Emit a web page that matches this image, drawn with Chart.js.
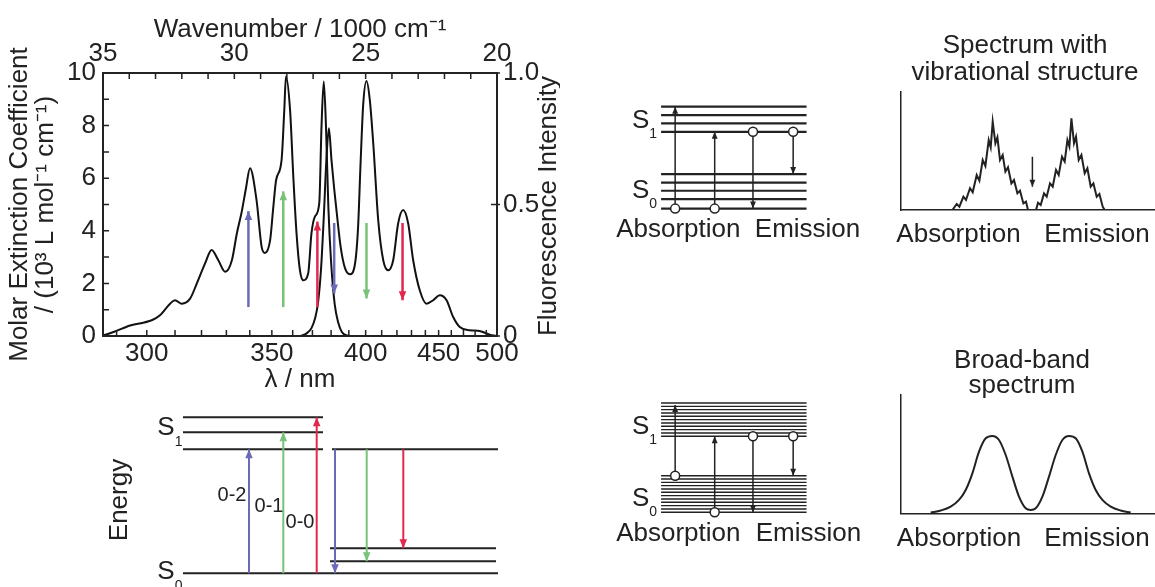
<!DOCTYPE html>
<html>
<head>
<meta charset="utf-8">
<script src="https://cdn.jsdelivr.net/npm/chart.js@4.4.1/dist/chart.umd.min.js"></script>
<style>
  html, body { margin: 0; padding: 0; background: #fff; }
  body { width: 1155px; height: 587px; position: relative; overflow: hidden; }
  canvas { position: absolute; }
</style>
</head>
<body>
<canvas id="spectrum" width="560" height="400" style="left:0;top:0"></canvas>
<canvas id="levels" width="460" height="202" style="left:100px;top:385px"></canvas>
<canvas id="vibLevels" width="280" height="200" style="left:590px;top:60px"></canvas>
<canvas id="vibSpectrum" width="275" height="260" style="left:880px;top:0"></canvas>
<canvas id="broadLevels" width="280" height="240" style="left:590px;top:340px"></canvas>
<canvas id="broadSpectrum" width="275" height="247" style="left:880px;top:340px"></canvas>
<script>
const FONT = '"Liberation Sans", Arial, sans-serif';
const INK = '#222';

// absorption: molar extinction coefficient (10^3 L mol-1 cm-1) vs wavelength (nm)
const absWavelength = [286, 289, 294.4, 301.7, 304.6, 308.2, 310, 312.5, 315.6, 318.2, 321.4, 324, 326.7, 329.5,
  332.3, 334.4, 336.5, 338.3, 340.1, 343, 345.3, 346.8, 349.2, 350.7, 352, 354.6, 355.9, 356.7, 358.7, 360.3,
  361.9, 363.6, 365.3, 367.8, 369.5, 371.3, 373.6, 374.8, 376, 377.2, 378.5, 380, 382, 384, 386, 389, 392];
const absCoefficient = [0.03, 0.15, 0.4, 0.6, 0.79, 1.23, 1.36, 1.23, 1.42, 2.0, 2.76, 3.27, 2.88, 2.44,
  2.88, 3.9, 4.73, 5.6, 6.38, 5.17, 3.39, 3.16, 3.65, 4.92, 5.93, 6.7, 8.6, 9.87, 8.6, 6.06,
  3.9, 2.5, 2.12, 2.38, 3.9, 4.54, 5.05, 7.97, 9.68, 7.97, 4.9, 2.8, 1.2, 0.5, 0.15, 0.02, 0];

// fluorescence: normalised intensity vs wavelength (nm)
const emWavelength = [364, 367, 369.5, 371.5, 373, 374.5, 376, 377.5, 378.8, 380.2, 381.7, 383.1, 385.3, 387.7,
  390.6, 393.5, 395.4, 397, 398.5, 400.5, 402.5, 404.7, 407.8, 411, 414.2, 417.5, 420.8, 424.2, 427.7, 431.2,
  435.9, 440.9, 445.8, 450.9, 456.2, 461.5, 466.9, 475.3, 484, 493.2, 499];
const emIntensity = [0, 0.01, 0.03, 0.07, 0.13, 0.25, 0.45, 0.68, 0.79, 0.67, 0.56, 0.47, 0.34, 0.26,
  0.235, 0.27, 0.41, 0.67, 0.88, 0.97, 0.9, 0.73, 0.44, 0.288, 0.25, 0.288, 0.428, 0.479, 0.428, 0.288,
  0.174, 0.123, 0.136, 0.155, 0.136, 0.072, 0.034, 0.022, 0.019, 0.005, 0];

// vibronic bands 0-2, 0-1, 0-0 marked with arrows
const bandColors = ['#6b6bb5', '#79c279', '#e0294c'];
const absArrowNm = [339.4, 355.4, 372.6];
const absArrowFrom = 1.1;
const absArrowTo = [4.75, 5.5, 4.35];
const emArrowNm = [381.7, 400.5, 423.8];
const emArrowFrom = 4.3;
const emArrowTo = [1.62, 1.43, 1.36];

const nmTicks = [290, 300, 310, 320, 330, 340, 350, 360, 370, 380, 390, 400, 410, 420, 430, 440, 450, 460, 470, 480, 490, 500];
const nmLabels = [300, 350, 400, 450, 500];

// energy level scheme below the spectrum (relative energies)
const s1Levels = [124, 141, 156];
const s0Levels = [0, 12, 25];
const transitionLabels = ['0-2', '0-1', '0-0'];

// sharp-level scheme (top) and dense-level scheme (bottom)
const vibS0 = [0, 10, 19, 27.7, 36.7];
const vibS1 = [81.7, 90.7, 99.4, 108.4];
const denseS0 = [0, 3.5, 7, 10.5, 14, 17.5, 21, 24.5, 28, 31.5, 35, 38.5];
const denseS1 = [80, 83.5, 87, 90.5, 94, 97.5, 101, 104.5, 108, 111.5, 115];

// schematic spectrum with vibrational structure
const vibX = [0, 51.7, 56, 58.7, 62.7, 65.3, 69.3, 72, 76, 78.7, 82, 84.7, 88, 90, 92, 94.7, 96.7, 99.3, 102,
  104.7, 107.3, 110.7, 113.3, 116.7, 119.3, 122.7, 125.3, 127.3, 135.3, 137.3, 140, 143.3, 146, 149.3, 152,
  155.3, 158, 161.3, 164, 166.7, 168.7, 170.7, 173.3, 175.3, 178, 180.7, 184, 186.7, 190, 192.7, 196, 198.7,
  202, 204, 254];
const vibY = [0, 0, 0.051, 0.028, 0.113, 0.085, 0.184, 0.15, 0.297, 0.249, 0.424, 0.373, 0.593, 0.531, 0.749,
  0.565, 0.616, 0.424, 0.466, 0.325, 0.362, 0.226, 0.254, 0.141, 0.164, 0.056, 0.071, 0, 0, 0.062, 0.042,
  0.141, 0.113, 0.226, 0.198, 0.339, 0.297, 0.452, 0.41, 0.593, 0.537, 0.777, 0.565, 0.621, 0.424, 0.466,
  0.311, 0.353, 0.198, 0.226, 0.113, 0.136, 0.028, 0, 0];

// schematic broad-band spectrum
const broadX = [30, 40, 50, 58.3, 65, 71.7, 78.3, 85, 91.7, 98.3, 105, 111.7, 118.3, 125, 130, 135, 141.7,
  148.3, 155, 161.7, 168.3, 175, 181.7, 188.3, 195, 201.7, 210, 220, 230];
const broadY = [0.006, 0.023, 0.056, 0.113, 0.197, 0.338, 0.521, 0.634, 0.654, 0.62, 0.493, 0.31, 0.141,
  0.042, 0.028, 0.042, 0.141, 0.31, 0.493, 0.62, 0.654, 0.634, 0.521, 0.338, 0.197, 0.113, 0.056, 0.023, 0.006];

Chart.defaults.font.family = FONT;
Chart.defaults.font.size = 26;
Chart.defaults.color = INK;

// filled arrowheads at the last point of datasets flagged with arrowHead
const arrowHeads = {
  id: 'arrowHeads',
  afterDatasetsDraw(chart) {
    const ctx = chart.ctx;
    chart.data.datasets.forEach((ds, i) => {
      if (!ds.arrowHead) return;
      const pts = chart.getDatasetMeta(i).data;
      const a = pts[pts.length - 2], b = pts[pts.length - 1];
      const ang = Math.atan2(b.y - a.y, b.x - a.x);
      const len = ds.arrowHead, half = len * 0.42;
      ctx.save();
      ctx.fillStyle = ds.borderColor;
      ctx.translate(b.x, b.y);
      ctx.rotate(ang);
      ctx.beginPath();
      ctx.moveTo(0, 0);
      ctx.lineTo(-len, half);
      ctx.lineTo(-len, -half);
      ctx.closePath();
      ctx.fill();
      ctx.restore();
    });
  }
};

// free text (labels, subscripts) placed in data units or canvas pixels
const textMarks = {
  id: 'textMarks',
  afterDraw(chart, args, opts) {
    const ctx = chart.ctx;
    (opts.items || []).forEach(m => {
      const x = m.px ? m.x : chart.scales.x.getPixelForValue(m.x);
      const y = m.px ? m.y : chart.scales.y.getPixelForValue(m.y);
      ctx.save();
      ctx.translate(x, y);
      if (m.rotate) ctx.rotate(m.rotate * Math.PI / 180);
      ctx.fillStyle = INK;
      ctx.font = (m.size || 26) + 'px ' + FONT;
      ctx.textAlign = 'center';
      ctx.textBaseline = 'middle';
      ctx.fillText(m.text, 0, 0);
      if (m.sub) {
        const w = ctx.measureText(m.text).width;
        ctx.font = (m.subSize || 14) + 'px ' + FONT;
        ctx.textAlign = 'left';
        ctx.fillText(m.sub, w / 2, m.subDy || 13);
      }
      ctx.restore();
    });
  }
};

// plot frame with inward tick marks on all four sides
const frameTicks = {
  id: 'frameTicks',
  afterDraw(chart) {
    const { ctx, chartArea: a, scales } = chart;
    ctx.save();
    ctx.strokeStyle = INK;
    ctx.lineWidth = 1.5;
    ctx.beginPath();
    scales.y.ticks.forEach(t => {
      const p = scales.y.getPixelForValue(t.value);
      ctx.moveTo(a.left, p); ctx.lineTo(a.left + 6, p);
    });
    scales.y1.ticks.forEach(t => {
      const p = scales.y1.getPixelForValue(t.value);
      ctx.moveTo(a.right - 6, p); ctx.lineTo(a.right + 3, p);
    });
    scales.xTop.ticks.forEach(t => {
      const p = scales.xTop.getPixelForValue(t.value);
      ctx.moveTo(p, a.top); ctx.lineTo(p, a.top + 6);
    });
    scales.x.ticks.forEach(t => {
      const p = scales.x.getPixelForValue(t.value);
      ctx.moveTo(p, a.bottom); ctx.lineTo(p, a.bottom - 6);
    });
    ctx.stroke();
    ctx.lineWidth = 2;
    ctx.strokeRect(a.left, a.top, a.right - a.left, a.bottom - a.top);
    ctx.restore();
  }
};

const toWavenumber = nm => 1e4 / nm;   // in 1000 cm-1

function arrowSet(nm, from, to, color, axis) {
  return {
    yAxisID: axis,
    data: [{ x: toWavenumber(nm), y: from }, { x: toWavenumber(nm), y: to }],
    borderColor: color, borderWidth: 2.5, pointRadius: 0, arrowHead: 9
  };
}

const hiddenGrid = { display: false, drawTicks: false };

new Chart(document.getElementById('spectrum'), {
  type: 'line',
  data: {
    datasets: [
      ...absArrowNm.map((nm, i) => arrowSet(nm, absArrowFrom, absArrowTo[i], bandColors[i], 'y')),
      ...emArrowNm.map((nm, i) => arrowSet(nm, emArrowFrom, emArrowTo[i], bandColors[i], 'y')),
      {
        yAxisID: 'y',
        data: absWavelength.map((nm, i) => ({ x: toWavenumber(nm), y: absCoefficient[i] })),
        borderColor: '#111', borderWidth: 2, pointRadius: 0, cubicInterpolationMode: 'monotone'
      },
      {
        yAxisID: 'y1',
        data: emWavelength.map((nm, i) => ({ x: toWavenumber(nm), y: emIntensity[i] })),
        borderColor: '#111', borderWidth: 2, pointRadius: 0, cubicInterpolationMode: 'monotone'
      }
    ]
  },
  options: {
    responsive: false, animation: false, events: [],
    layout: { padding: 0 },
    scales: {
      x: {
        type: 'linear', position: 'bottom', min: 20, max: 35, reverse: true,
        afterBuildTicks: s => { s.ticks = nmTicks.map(nm => ({ value: toWavenumber(nm) })); },
        ticks: {
          autoSkip: false, maxRotation: 0, padding: 2,
          callback: v => { const nm = Math.round(1e4 / v); return nmLabels.includes(nm) ? String(nm) : ''; }
        },
        grid: hiddenGrid, border: { display: false },
        title: { display: true, text: 'λ / nm', padding: { top: 0, bottom: 5 } },
        afterFit: s => { s.height = 64; }
      },
      xTop: {
        type: 'linear', position: 'top', min: 20, max: 35, reverse: true,
        ticks: { stepSize: 1, autoSkip: false, maxRotation: 0, padding: 4, callback: v => v % 5 === 0 ? String(v) : '' },
        grid: hiddenGrid, border: { display: false },
        title: { display: true, text: 'Wavenumber / 1000 cm⁻¹', padding: { top: 14, bottom: 0 } },
        afterFit: s => { s.height = 73; }
      },
      y: {
        position: 'left', min: 0, max: 10,
        ticks: { stepSize: 1, autoSkip: false, padding: 7, callback: v => v % 2 === 0 ? String(v) : '' },
        grid: hiddenGrid, border: { display: false },
        title: {
          display: true,
          text: ['Molar Extinction Coefficient', '/ (10³ L mol⁻¹ cm⁻¹)'],
          font: { size: 26, lineHeight: 1.0 }, padding: { top: 7, bottom: 0 }
        },
        afterFit: s => { s.width = 103; }
      },
      y1: {
        position: 'right', min: 0, max: 1,
        ticks: { stepSize: 0.5, autoSkip: false, padding: 6, callback: v => v === 0 ? '0' : v.toFixed(1) },
        grid: hiddenGrid, border: { display: false },
        afterFit: s => { s.width = 63; }
      }
    },
    plugins: {
      legend: { display: false }, tooltip: { enabled: false },
      textMarks: { items: [{ text: 'Fluorescence Intensity', px: true, x: 549, y: 206, rotate: -90 }] }
    }
  },
  plugins: [frameTicks, arrowHeads, textMarks]
});

// helpers for the schematic panels
function levelSet(e, x0, x1, width) {
  return { data: [{ x: x0, y: e }, { x: x1, y: e }], borderColor: INK, borderWidth: width || 2, pointRadius: 0 };
}
function transition(x, from, to, color, head, width, ring) {
  return {
    data: [{ x: x, y: from }, { x: x, y: to }],
    borderColor: color, borderWidth: width, arrowHead: head,
    pointRadius: ring ? [4.5, 0] : 0, pointStyle: 'circle',
    pointBackgroundColor: '#fff', pointBorderColor: color, pointBorderWidth: 1.5
  };
}
function panel(id, datasets, xr, yr, items, axes, padding) {
  const axis = (r) => ({
    type: 'linear', min: r[0], max: r[1], display: !!axes,
    ticks: { display: false }, grid: hiddenGrid,
    border: { display: true, color: INK, width: 1.5 },
    afterFit: s => { s.width = 0; s.height = 0; }
  });
  return new Chart(document.getElementById(id), {
    type: 'line',
    data: { datasets: datasets },
    options: {
      responsive: false, animation: false, events: [],
      layout: { padding: padding || 0 },
      scales: { x: axis(xr), y: axis(yr) },
      plugins: { legend: { display: false }, tooltip: { enabled: false }, textMarks: { items: items } }
    },
    plugins: [arrowHeads, textMarks]
  });
}

// energy level scheme: absorption from S0 v=0, emission from S1 v=0
panel('levels', [
  ...s1Levels.map((e, i) => transition([149, 183.3, 216.7][i], 0, e, bandColors[i], 9, 2, false)),
  ...s0Levels.map((e, i) => transition([235, 266.7, 303.3][i], s1Levels[0], e, bandColors[i], 9, 2, false)),
  ...s1Levels.map(e => levelSet(e, 83, 223)),
  levelSet(s1Levels[0], 232, 398),
  levelSet(s0Levels[0], 83, 398),
  ...s0Levels.slice(1).map(e => levelSet(e, 230, 396))
], [0, 460], [-13.7, 188.3], [
  { text: transitionLabels[0], x: 132, y: 78.3, size: 20 },
  { text: transitionLabels[1], x: 169, y: 67.3, size: 20 },
  { text: transitionLabels[2], x: 200, y: 51.3, size: 20 },
  { text: 'Energy', x: 20, y: 73.3, rotate: -90 },
  { text: 'S', sub: '1', x: 66, y: 145.3, subDy: 14 },
  { text: 'S', sub: '0', x: 66, y: 1.3, subDy: 14 }
]);

// few, well separated vibrational levels
panel('vibLevels', [
  transition(82.7, vibS0[0], vibS1[3], INK, 7, 1.5, true),
  transition(124, vibS0[0], vibS1[0], INK, 7, 1.5, true),
  transition(164, vibS1[0], vibS0[0], INK, 7, 1.5, true),
  transition(206, vibS1[0], vibS0[4], INK, 7, 1.5, true),
  ...vibS1.map(e => levelSet(e, 68, 220, 2.2)),
  ...vibS0.map(e => levelSet(e, 68, 220, 2.2))
], [0, 280], [-48.3, 151.7], [
  { text: 'S', sub: '1', x: 46.7, y: 93.4 },
  { text: 'S', sub: '0', x: 46.7, y: 18.4 },
  { text: 'Absorption', x: 86, y: -23 },
  { text: 'Emission', x: 221, y: -23 }
]);

// many closely spaced levels
panel('broadLevels', [
  transition(82.7, denseS0[11], 113, INK, 7, 1.5, true),
  transition(124, denseS0[0], denseS1[0], INK, 7, 1.5, true),
  transition(164, denseS1[0], denseS0[0], INK, 7, 1.5, true),
  transition(206, denseS1[0], denseS0[11], INK, 7, 1.5, true),
  ...denseS1.map(e => levelSet(e, 68, 220, 1.4)),
  ...denseS0.map(e => levelSet(e, 68, 220, 1.4))
], [0, 280], [-65, 175], [
  { text: 'S', sub: '1', x: 46.7, y: 90 },
  { text: 'S', sub: '0', x: 46.7, y: 14 },
  { text: 'Absorption', x: 86, y: -23 },
  { text: 'Emission', x: 222, y: -23 }
]);

// spectrum with vibrational structure
panel('vibSpectrum', [
  transition(131.7, 0.452, 0.197, INK, 7, 1.5, false),
  { data: vibX.map((x, i) => ({ x: x, y: vibY[i] })), borderColor: INK, borderWidth: 2, pointRadius: 0 }
], [0, 254.3], [0, 1], [
  { text: 'Spectrum with', px: true, x: 145, y: 46 },
  { text: 'vibrational structure', px: true, x: 145, y: 73 },
  { text: 'Absorption', px: true, x: 78.5, y: 235 },
  { text: 'Emission', px: true, x: 217, y: 235 }
], true, { left: 20.7, top: 92, right: 0, bottom: 50 });

// broad-band spectrum
panel('broadSpectrum', [
  { data: broadX.map((x, i) => ({ x: x, y: broadY[i] })), borderColor: INK, borderWidth: 2, pointRadius: 0,
    cubicInterpolationMode: 'monotone' }
], [0, 254.3], [0, 1], [
  { text: 'Broad-band', px: true, x: 142, y: 21 },
  { text: 'spectrum', px: true, x: 142, y: 46 },
  { text: 'Absorption', px: true, x: 79, y: 199 },
  { text: 'Emission', px: true, x: 217, y: 199 }
], true, { left: 20.7, top: 55, right: 0, bottom: 73.7 });
</script>
</body>
</html>
